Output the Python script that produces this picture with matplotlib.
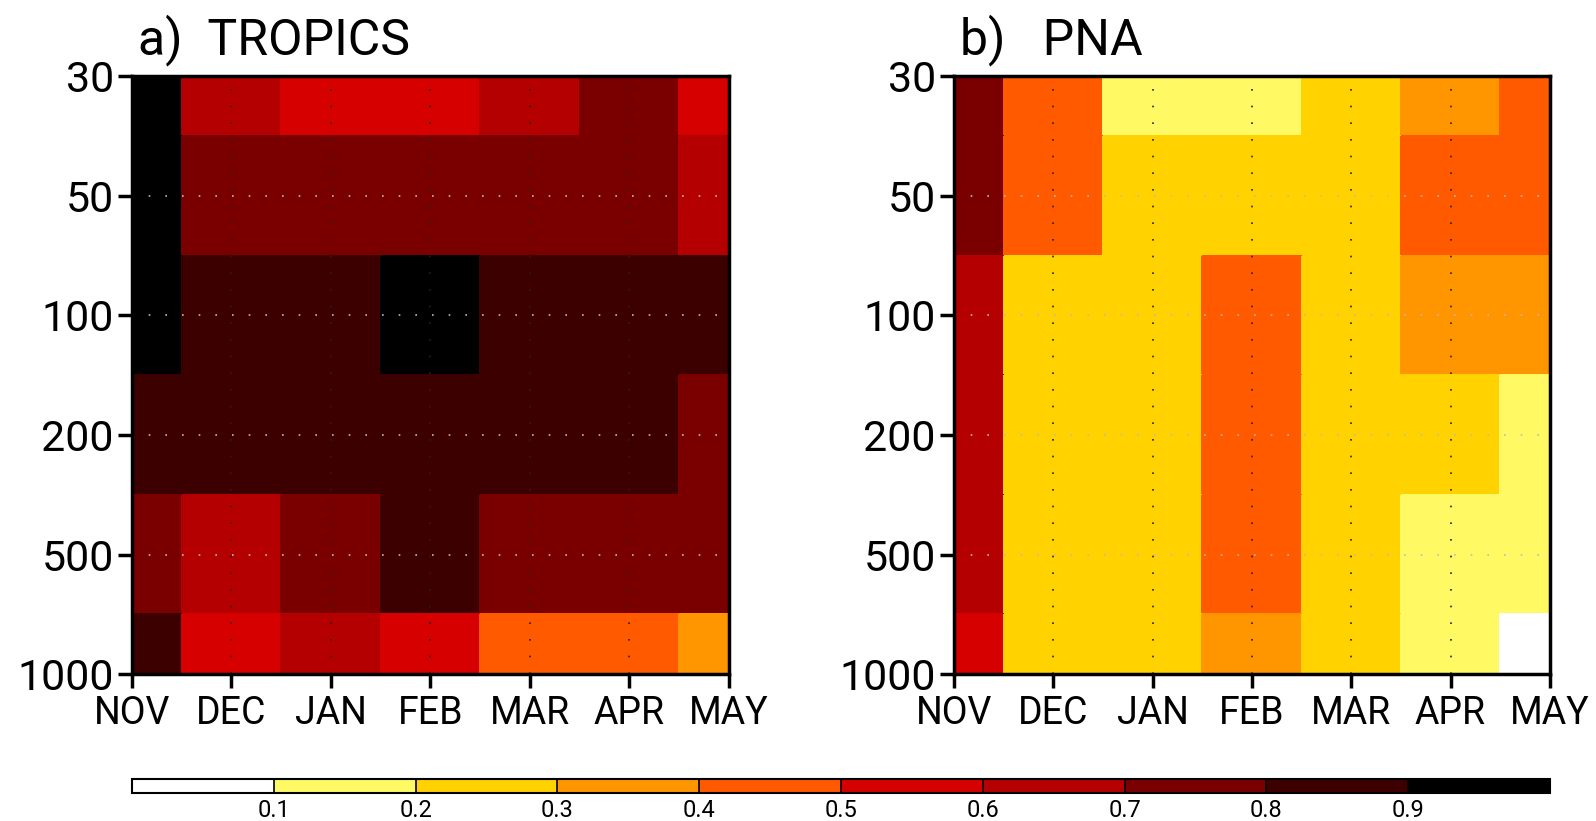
import numpy as np
import matplotlib
matplotlib.use("Agg")
import matplotlib.pyplot as plt
from matplotlib.colors import ListedColormap, BoundaryNorm

plt.rcParams['font.family'] = ['Roboto', 'DejaVu Sans']

# data: rows = levels (top to bottom), cols = months
months = ["NOV", "DEC", "JAN", "FEB", "MAR", "APR", "MAY"]
levels = ["30", "50", "100", "200", "500", "1000"]

tropics = [
    [0.95, 0.65, 0.55, 0.55, 0.65, 0.75, 0.55],
    [0.95, 0.75, 0.75, 0.75, 0.75, 0.75, 0.65],
    [0.95, 0.85, 0.85, 0.95, 0.85, 0.85, 0.85],
    [0.85, 0.85, 0.85, 0.85, 0.85, 0.85, 0.75],
    [0.75, 0.65, 0.75, 0.85, 0.75, 0.75, 0.75],
    [0.85, 0.55, 0.65, 0.55, 0.45, 0.45, 0.35],
]
pna = [
    [0.75, 0.45, 0.15, 0.15, 0.25, 0.35, 0.45],
    [0.75, 0.45, 0.25, 0.25, 0.25, 0.45, 0.45],
    [0.65, 0.25, 0.25, 0.45, 0.25, 0.35, 0.35],
    [0.65, 0.25, 0.25, 0.45, 0.25, 0.25, 0.15],
    [0.65, 0.25, 0.25, 0.45, 0.25, 0.15, 0.15],
    [0.55, 0.25, 0.25, 0.35, 0.25, 0.15, 0.05],
]

bounds = [0.0, 0.1, 0.2, 0.3, 0.4, 0.5, 0.6, 0.7, 0.8, 0.9, 1.0]
colors = ["#ffffff", "#fffa64", "#ffd200", "#ff9600", "#ff5a00",
          "#d70000", "#b40000", "#7a0000", "#3c0000", "#000000"]
cmap = ListedColormap(colors)
norm = BoundaryNorm(bounds, cmap.N)

fig = plt.figure(figsize=(15.96, 8.21), dpi=100)
ax_a = fig.add_axes([0.0827, 0.179, 0.374, 0.728])
ax_b = fig.add_axes([0.5977, 0.179, 0.3734, 0.728])

x_edges = np.arange(len(months) + 1) - 0.5
y_edges = np.arange(len(levels) + 1) - 0.5


def draw_panel(ax, data, title):
    mesh = ax.pcolormesh(x_edges, y_edges, np.array(data), cmap=cmap, norm=norm,
                         edgecolors='face', linewidth=0.3)
    ax.set_xlim(0, len(months) - 1)
    ax.set_ylim(len(levels) - 1, 0)
    ax.set_xticks(range(len(months)))
    ax.set_xticklabels(months, fontsize=27)
    ax.set_yticks(range(len(levels)))
    ax.set_yticklabels(levels, fontsize=31)
    ax.tick_params(axis='both', direction='out', length=10, width=2.5)
    ax.tick_params(axis='x', pad=5)
    ax.tick_params(axis='y', pad=3)
    for s in ax.spines.values():
        s.set_linewidth(2.5)
    # dotted grid
    for i in range(1, len(months) - 1):
        ax.axvline(i, color='#222222', linestyle=(0, (1, 9)), linewidth=1.2)
    for j in range(1, len(levels) - 1):
        ax.axhline(j, color='#bbbbbb', linestyle=(0, (1, 9)), linewidth=1.2)
    ax.set_title(title, loc='left', fontsize=36, pad=16, x=0.01)
    return mesh


mesh = draw_panel(ax_a, tropics, "a)  TROPICS")
draw_panel(ax_b, pna, "b)   PNA")

cax = fig.add_axes([0.0827, 0.034, 0.8885, 0.017])
cb = fig.colorbar(mesh, cax=cax, orientation='horizontal', drawedges=True,
                  ticks=bounds[1:-1])
cb.outline.set_linewidth(1.5)
cb.dividers.set_linewidth(1.2)
cb.ax.set_xticklabels([f"{b:.1f}" for b in bounds[1:-1]], fontsize=17)
cb.ax.minorticks_off()
cb.ax.tick_params(length=0, pad=4)

fig.savefig("out.png", dpi=100)
